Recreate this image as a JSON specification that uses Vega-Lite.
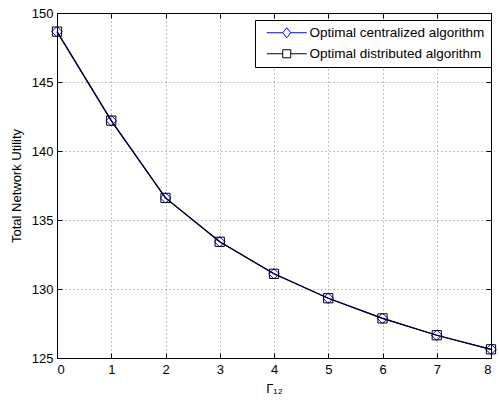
{
  "$schema": "https://vega.github.io/schema/vega-lite/v6.json",
  "autosize": {"type": "none"},
  "width": 434,
  "height": 345,
  "padding": {"left": 57, "top": 13, "right": 8, "bottom": 47},
  "background": "white",
  "config": {
    "view": {"stroke": "black", "strokeWidth": 1},
    "font": "Liberation Sans",
    "axis": {
      "labelFont": "Liberation Sans",
      "labelFontSize": 13,
      "labelColor": "black",
      "titleFont": "Liberation Sans",
      "titleFontSize": 13,
      "titleFontWeight": "normal",
      "titleColor": "black",
      "domainColor": "black",
      "tickColor": "black",
      "gridColor": "#808080",
      "gridDash": [1, 3],
      "gridOpacity": 1
    },
    "legend": {
      "title": null,
      "orient": "none",
      "legendX": 198,
      "legendY": 7,
      "padding": 6,
      "strokeColor": "black",
      "fillColor": "white",
      "labelFont": "Liberation Sans",
      "labelFontSize": 13.5,
      "labelColor": "black",
      "labelLimit": 400,
      "labelOffset": 35,
      "rowPadding": 6,
      "symbolSize": 64,
      "symbolStrokeWidth": 1,
      "symbolOpacity": 1,
      "symbolFillColor": "transparent"
    }
  },
  "data": {
    "values": [
      {"series": "Optimal centralized algorithm", "g": 0, "u": 148.65},
      {"series": "Optimal centralized algorithm", "g": 1, "u": 142.2},
      {"series": "Optimal centralized algorithm", "g": 2, "u": 136.6},
      {"series": "Optimal centralized algorithm", "g": 3, "u": 133.42},
      {"series": "Optimal centralized algorithm", "g": 4, "u": 131.1},
      {"series": "Optimal centralized algorithm", "g": 5, "u": 129.33},
      {"series": "Optimal centralized algorithm", "g": 6, "u": 127.87},
      {"series": "Optimal centralized algorithm", "g": 7, "u": 126.65},
      {"series": "Optimal centralized algorithm", "g": 8, "u": 125.63},
      {"series": "Optimal distributed algorithm", "g": 0, "u": 148.65},
      {"series": "Optimal distributed algorithm", "g": 1, "u": 142.2},
      {"series": "Optimal distributed algorithm", "g": 2, "u": 136.6},
      {"series": "Optimal distributed algorithm", "g": 3, "u": 133.42},
      {"series": "Optimal distributed algorithm", "g": 4, "u": 131.1},
      {"series": "Optimal distributed algorithm", "g": 5, "u": 129.33},
      {"series": "Optimal distributed algorithm", "g": 6, "u": 127.87},
      {"series": "Optimal distributed algorithm", "g": 7, "u": 126.65},
      {"series": "Optimal distributed algorithm", "g": 8, "u": 125.63}
    ]
  },
  "resolve": {"axis": {"x": "independent", "y": "independent"}},
  "layer": [
    {
      "mark": {"type": "line", "strokeWidth": 1.2},
      "encoding": {
        "x": {
          "field": "g", "type": "quantitative",
          "scale": {"domain": [0, 8], "nice": false, "zero": false},
          "axis": {"orient": "bottom", "values": [0,1,2,3,4,5,6,7,8], "grid": true, "tickSize": -5, "labelPadding": 10, "title": "Γ₁₂", "titlePadding": 6}
        },
        "y": {
          "field": "u", "type": "quantitative",
          "scale": {"domain": [125, 150], "nice": false, "zero": false},
          "axis": {"orient": "left", "values": [125,130,135,140,145,150], "grid": true, "tickSize": -5, "labelPadding": 9, "title": "Total Network Utility", "titlePadding": 8}
        },
        "color": {
          "field": "series", "type": "nominal",
          "scale": {"domain": ["Optimal centralized algorithm", "Optimal distributed algorithm"], "range": ["#0000ff", "#000000"]}
        },
        "order": {"field": "series"}
      }
    },
    {
      "mark": {"type": "point", "filled": false, "strokeWidth": 1, "opacity": 0, "size": 64},
      "encoding": {
        "x": {
          "field": "g", "type": "quantitative",
          "scale": {"domain": [0, 8], "nice": false, "zero": false},
          "axis": {"orient": "top", "values": [0,1,2,3,4,5,6,7,8], "grid": false, "labels": false, "tickSize": -5, "title": null}
        },
        "y": {
          "field": "u", "type": "quantitative",
          "scale": {"domain": [125, 150], "nice": false, "zero": false},
          "axis": {"orient": "right", "values": [125,130,135,140,145,150], "grid": false, "labels": false, "tickSize": -5, "title": null}
        },
        "color": {
          "field": "series", "type": "nominal",
          "scale": {"domain": ["Optimal centralized algorithm", "Optimal distributed algorithm"], "range": ["#0000ff", "#000000"]}
        },
        "shape": {
          "field": "series", "type": "nominal",
          "scale": {"domain": ["Optimal centralized algorithm", "Optimal distributed algorithm"], "range": ["M-0.25,0H3.75M5.75,0H9.75M3.75,0L4.75,-1.25L5.75,0L4.75,1.25Z", "M-0.25,0H3.75M5.75,0H9.75M3.75,-1H5.75V1H3.75Z"]}
        }
      }
    },
    {
      "transform": [{"filter": "datum.series == 'Optimal centralized algorithm'"}],
      "mark": {"type": "point", "filled": false, "strokeWidth": 1, "opacity": 1, "shape": "diamond", "size": 110},
      "encoding": {
        "x": {"field": "g", "type": "quantitative", "scale": {"domain": [0, 8], "nice": false, "zero": false}, "axis": null},
        "y": {"field": "u", "type": "quantitative", "scale": {"domain": [125, 150], "nice": false, "zero": false}, "axis": null},
        "color": {
          "field": "series", "type": "nominal",
          "scale": {"domain": ["Optimal centralized algorithm", "Optimal distributed algorithm"], "range": ["#0000ff", "#000000"]}
        }
      }
    },
    {
      "transform": [{"filter": "datum.series == 'Optimal distributed algorithm'"}],
      "mark": {"type": "point", "filled": false, "strokeWidth": 1, "opacity": 1, "shape": "square", "size": 85},
      "encoding": {
        "x": {"field": "g", "type": "quantitative", "scale": {"domain": [0, 8], "nice": false, "zero": false}, "axis": null},
        "y": {"field": "u", "type": "quantitative", "scale": {"domain": [125, 150], "nice": false, "zero": false}, "axis": null},
        "color": {
          "field": "series", "type": "nominal",
          "scale": {"domain": ["Optimal centralized algorithm", "Optimal distributed algorithm"], "range": ["#0000ff", "#000000"]}
        }
      }
    }
  ]
}
